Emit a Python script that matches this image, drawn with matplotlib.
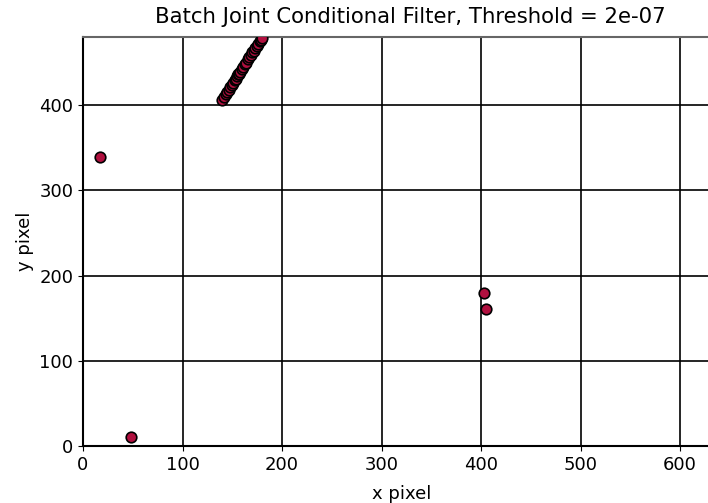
import numpy as np
import matplotlib
matplotlib.use('Agg')
import matplotlib.pyplot as plt

# detected points (pixel coordinates)
x_pts = [17, 48, 403, 405,
         140, 142, 144, 145, 147, 148, 150, 151, 153, 154, 155, 156, 157,
         158, 160, 161, 163, 164, 166, 167, 169, 170, 172, 173, 175, 176,
         178, 179, 180]
y_pts = [339, 10, 179, 161,
         406, 410, 413, 415, 418, 421, 424, 426, 429, 431, 434, 436, 437,
         439, 442, 445, 448, 450, 454, 456, 459, 462, 464, 467, 470, 472,
         475, 477, 479]

x_ticks = [0, 100, 200, 300, 400, 500, 600]
y_ticks = [0, 100, 200, 300, 400]

fig = plt.figure(figsize=(7.08, 5.03), dpi=100)
ax = fig.add_axes([83/708, 57/503, 640*0.995/708, 409/503])
ax.scatter(x_pts, y_pts, s=58, c='#b0103f', edgecolors='black', linewidths=1.2, zorder=3)
ax.set_xlim(0, 640)
ax.set_ylim(0, 480)
ax.set_xticks(x_ticks)
ax.set_yticks(y_ticks)
ax.grid(True, color='black', linewidth=1.2)
ax.set_axisbelow(True)
ax.tick_params(labelsize=13)
ax.set_xlabel('x pixel', fontsize=13, labelpad=8)
ax.set_ylabel('y pixel', fontsize=13)
fig.text(0.579, 0.955, 'Batch Joint Conditional Filter, Threshold = 2e-07', fontsize=15.3, ha='center')
ax.spines['right'].set_visible(False)
ax.spines['top'].set_color('0.4')
ax.spines['top'].set_linewidth(1.5)
ax.spines['left'].set_linewidth(1.5)
ax.spines['bottom'].set_linewidth(1.5)
fig.savefig('out.png', dpi=100)
